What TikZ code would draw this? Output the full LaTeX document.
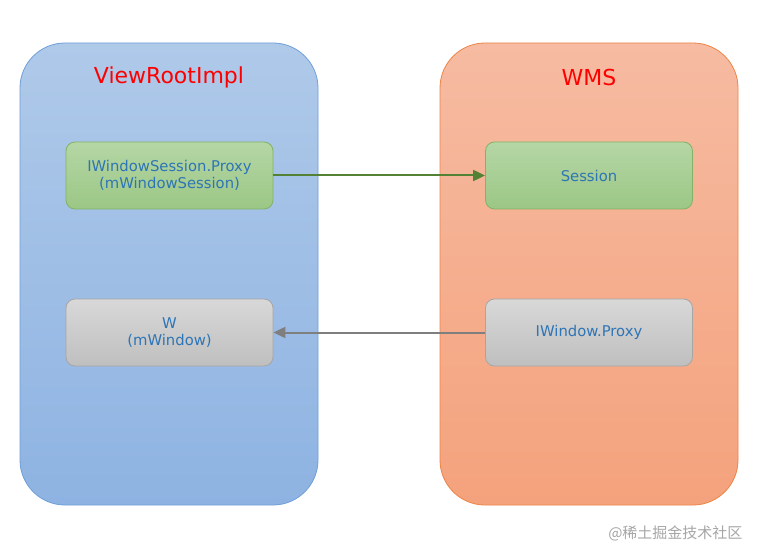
\documentclass[tikz,border=0pt]{standalone}
\usepackage{fontspec}
\setmainfont{DejaVu Sans}
\newfontfamily\cjk{Noto Sans CJK SC}
\usetikzlibrary{arrows.meta}
\definecolor{lbTop}{HTML}{AFC9E9}
\definecolor{lbBot}{HTML}{8EB3E2}
\definecolor{lbBorder}{HTML}{6F9FD8}
\definecolor{rbTop}{HTML}{F6BBA2}
\definecolor{rbBot}{HTML}{F4A27C}
\definecolor{rbBorder}{HTML}{EE8445}
\definecolor{gTop}{HTML}{B5D6A5}
\definecolor{gBot}{HTML}{9BC785}
\definecolor{gBorder}{HTML}{82B366}
\definecolor{sTop}{HTML}{D8D8D8}
\definecolor{sBot}{HTML}{BFBFBF}
\definecolor{sBorder}{HTML}{A6A6A6}
\definecolor{txtBlue}{HTML}{2E75B6}
\definecolor{gArrow}{HTML}{548235}
\definecolor{sArrow}{HTML}{7F7F7F}
\begin{document}
\begin{tikzpicture}[x=1pt,y=-1pt,
  container/.style={rounded corners=45pt, line width=0.8pt},
  lcont/.style={container, draw=lbBorder, top color=lbTop, bottom color=lbBot},
  rcont/.style={container, draw=rbBorder, top color=rbTop, bottom color=rbBot},
  inner/.style={rounded corners=9pt, line width=0.8pt, minimum width=207pt, minimum height=67pt,
    align=center, text=txtBlue, font=\fontsize{14.8}{17.5}\selectfont, inner sep=0pt},
  gbox/.style={inner, draw=gBorder, top color=gTop, bottom color=gBot},
  sbox/.style={inner, draw=sBorder, top color=sTop, bottom color=sBot},
  title/.style={text=red, font=\fontsize{22}{25}\selectfont},
  link/.style={line width=2pt, -{Triangle[length=12pt,width=11pt]}}
]
\useasboundingbox[fill=white] (0,0) rectangle (761,559);
\node[lcont, minimum width=298pt, minimum height=462pt, inner sep=0pt] (left) at (169,274) {};
\node[rcont, minimum width=298pt, minimum height=462pt, inner sep=0pt] (right) at (589,274) {};
\node[title] (ltitle) at (169,77) {ViewRootImpl};
\node[title] (rtitle) at (589,77) {WMS};
\node[gbox] (iws) at (169.5,175.5) {IWindowSession.Proxy\\(mWindowSession)};
\node[gbox] (sess) at (589,175.5) {Session};
\node[sbox] (w) at (169.5,332.5) {W\\(mWindow)};
\node[sbox] (iwp) at (589,332.5) {IWindow.Proxy};
\draw[link, draw=gArrow, fill=gArrow] (iws) -- (sess);
\draw[link, draw=sArrow, fill=sArrow] (iwp) -- (w);
\node[text=black!35, font=\cjk\fontsize{15}{17}\selectfont, anchor=east] (wm) at (746,533) {@稀土掘金技术社区};
\end{tikzpicture}
\end{document}
